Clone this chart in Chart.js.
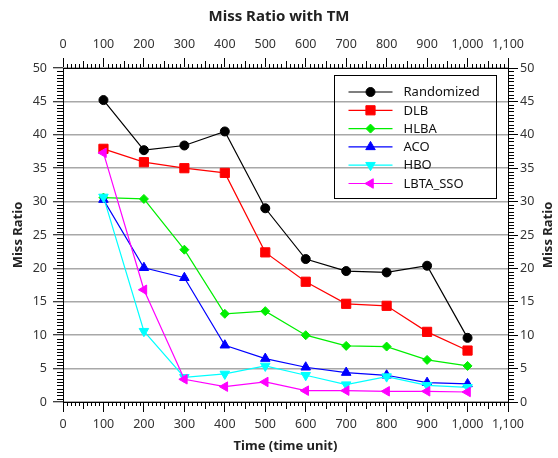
<!DOCTYPE html>
<html>
<head>
<meta charset="utf-8">
<script src="https://cdn.jsdelivr.net/npm/chart.js@4.4.1/dist/chart.umd.min.js"></script>
<style>
  html, body { margin: 0; padding: 0; background: #fff; }
  canvas { display: block; }
</style>
</head>
<body>
<canvas id="graficoMiss" width="558" height="458"></canvas>
<script>
// Tiempos (time unit) y Miss Ratio de cada algoritmo
const tiempos = [100, 200, 300, 400, 500, 600, 700, 800, 900, 1000];
const randomized = [45.2, 37.7, 38.4, 40.5, 29.0, 21.4, 19.6, 19.4, 20.4, 9.6];
const dlb = [37.9, 35.9, 35.0, 34.3, 22.4, 18.0, 14.7, 14.4, 10.5, 7.7];
const hlba = [30.6, 30.4, 22.8, 13.2, 13.6, 10.0, 8.4, 8.3, 6.3, 5.4];
const aco = [30.3, 20.1, 18.6, 8.5, 6.5, 5.2, 4.4, 4.0, 2.9, 2.7];
const hbo = [30.7, 10.6, 3.7, 4.2, 5.4, 4.0, 2.6, 3.8, 2.5, 2.2];
const lbtaSso = [37.3, 16.8, 3.4, 2.3, 3.0, 1.7, 1.7, 1.6, 1.6, 1.5];

const ticksX = [0, 100, 200, 300, 400, 500, 600, 700, 800, 900, 1000, 1100];
const ticksY = [0, 5, 10, 15, 20, 25, 30, 35, 40, 45, 50];

const FUENTE = '"Noto Sans", "Open Sans", sans-serif';

const series = [
    { label: 'Randomized', data: randomized, color: '#000000', estilo: 'circle', radio: 4.5, rot: 0 },
    { label: 'DLB', data: dlb, color: '#ff0000', estilo: 'rect', radio: 6.5, rot: 0 },
    { label: 'HLBA', data: hlba, color: '#00ee00', estilo: 'rectRot', radio: 4.5, rot: 0 },
    { label: 'ACO', data: aco, color: '#0000ff', estilo: 'triangle', radio: 5.5, rot: 0 },
    { label: 'HBO', data: hbo, color: '#00ffff', estilo: 'triangle', radio: 5.5, rot: 180 },
    { label: 'LBTA_SSO', data: lbtaSso, color: '#ff00ff', estilo: 'triangle', radio: 5.5, rot: 270 }
];

// Ticks menores, marco del área y título derecho
const ticksMenores = {
    id: 'ticksMenores',
    afterDraw(chart) {
        const ctx = chart.ctx;
        const { top, bottom, left, right } = chart.chartArea;
        const sx = chart.scales.x;
        const sy = chart.scales.y;
        ctx.save();
        ctx.strokeStyle = '#000';
        ctx.lineWidth = 1;
        ctx.beginPath();
        for (let i = 0; i <= 110; i++) {
            if (i % 10 === 0) continue;
            const px = Math.round(sx.getPixelForValue(i * 10)) + 0.5;
            const len = i % 5 === 0 ? 7 : 4;
            ctx.moveTo(px, bottom);
            ctx.lineTo(px, bottom + len);
            ctx.moveTo(px, top);
            ctx.lineTo(px, top - len);
        }
        for (let i = 0; i <= 100; i++) {
            if (i % 10 === 0) continue;
            const py = Math.round(sy.getPixelForValue(i * 0.5)) + 0.5;
            ctx.moveTo(left, py);
            ctx.lineTo(left - 6, py);
            ctx.moveTo(right, py);
            ctx.lineTo(right + 6, py);
        }
        ctx.stroke();
        ctx.strokeRect(Math.round(left) + 0.5, Math.round(top) + 0.5,
            Math.round(right - left), Math.round(bottom - top));

        ctx.fillStyle = '#222';
        ctx.font = 'bold 13px ' + FUENTE;
        ctx.textAlign = 'center';
        ctx.textBaseline = 'middle';
        ctx.translate(548, (top + bottom) / 2);
        ctx.rotate(-Math.PI / 2);
        ctx.fillText('Miss Ratio', 0, 0);
        ctx.restore();
    }
};

// Leyenda dentro del área del gráfico
const leyenda = {
    id: 'leyenda',
    afterDraw(chart) {
        const ctx = chart.ctx;
        const { top, right } = chart.chartArea;
        const ancho = 162, alto = 123;
        const x0 = Math.round(right - 12 - ancho) + 0.5;
        const y0 = Math.round(top + 7) + 0.5;
        ctx.save();
        ctx.strokeStyle = '#000';
        ctx.lineWidth = 1;
        ctx.strokeRect(x0, y0, ancho, alto);
        ctx.font = '13px ' + FUENTE;
        ctx.textBaseline = 'middle';
        ctx.textAlign = 'left';
        chart.data.datasets.forEach((ds, i) => {
            const y = y0 + 16.5 + i * 18.3;
            ctx.strokeStyle = ds.borderColor;
            ctx.lineWidth = 1.2;
            ctx.beginPath();
            ctx.moveTo(x0 + 14, y);
            ctx.lineTo(x0 + 58, y);
            ctx.stroke();
            ctx.fillStyle = ds.borderColor;
            ctx.lineWidth = 1;
            Chart.helpers.drawPoint(ctx, {
                pointStyle: ds.pointStyle,
                radius: ds.pointRadius,
                rotation: ds.pointRotation,
                borderWidth: 1
            }, x0 + 36, y);
            ctx.fillStyle = '#111';
            ctx.fillText(ds.label, x0 + 69, y + 0.5);
        });
        ctx.restore();
    }
};

const fuenteTicks = { family: FUENTE, size: 12.5 };
const fuenteTitulo = { family: FUENTE, size: 13, weight: 'bold' };

const ctx = document.getElementById('graficoMiss').getContext('2d');
const chart = new Chart(ctx, {
    type: 'line',
    data: {
        datasets: series.map((s, i) => ({
            label: s.label,
            data: tiempos.map((t, k) => ({ x: t, y: s.data[k] })),
            borderColor: s.color,
            backgroundColor: s.color,
            pointBackgroundColor: s.color,
            pointBorderColor: s.color,
            borderWidth: 1.2,
            pointStyle: s.estilo,
            pointRadius: s.radio,
            pointHoverRadius: s.radio,
            pointRotation: s.rot,
            pointBorderWidth: 1,
            tension: 0,
            fill: false,
            order: series.length - i
        }))
    },
    options: {
        responsive: false,
        animation: false,
        devicePixelRatio: 1,
        locale: 'en-US',
        layout: { padding: 0 },
        plugins: {
            legend: { display: false },
            tooltip: { enabled: false },
            title: {
                display: true,
                text: 'Miss Ratio with TM',
                color: '#222',
                font: { family: FUENTE, size: 15, weight: 'bold', lineHeight: 1.2 },
                padding: { top: 8, bottom: 0 }
            }
        },
        scales: {
            x: {
                type: 'linear',
                position: 'bottom',
                min: ticksX[0],
                max: ticksX[ticksX.length - 1],
                afterFit: s => { s.height = 56; },
                ticks: { stepSize: ticksX[1] - ticksX[0], color: '#333', font: fuenteTicks, padding: 5, maxRotation: 0 },
                grid: { drawOnChartArea: false, tickLength: 10, tickColor: '#000', tickWidth: 1 },
                border: { display: false },
                title: { display: true, text: 'Time (time unit)', color: '#222', font: fuenteTitulo, padding: { top: 0, bottom: 4 } }
            },
            x2: {
                type: 'linear',
                position: 'top',
                min: ticksX[0],
                max: ticksX[ticksX.length - 1],
                afterFit: s => { s.height = 42; },
                ticks: { stepSize: ticksX[1] - ticksX[0], color: '#333', font: fuenteTicks, padding: 6, maxRotation: 0 },
                grid: { drawOnChartArea: false, tickLength: 10, tickColor: '#000', tickWidth: 1 },
                border: { display: false }
            },
            y: {
                type: 'linear',
                position: 'left',
                min: ticksY[0],
                max: ticksY[ticksY.length - 1],
                afterFit: s => { s.width = 63; },
                ticks: { stepSize: ticksY[1] - ticksY[0], color: '#333', font: fuenteTicks, padding: 6 },
                grid: { color: '#a8a8a8', lineWidth: 1.5, tickLength: 10, tickColor: '#000', tickWidth: 1 },
                border: { display: false },
                title: { display: true, text: 'Miss Ratio', color: '#222', font: fuenteTitulo, padding: { top: 10, bottom: 0 } }
            },
            y2: {
                type: 'linear',
                position: 'right',
                min: ticksY[0],
                max: ticksY[ticksY.length - 1],
                afterFit: s => { s.width = 50; },
                ticks: { stepSize: ticksY[1] - ticksY[0], color: '#333', font: fuenteTicks, padding: 2 },
                grid: { drawOnChartArea: false, tickLength: 10, tickColor: '#000', tickWidth: 1 },
                border: { display: false }
            }
        }
    },
    plugins: [ticksMenores, leyenda]
});
</script>
</body>
</html>
